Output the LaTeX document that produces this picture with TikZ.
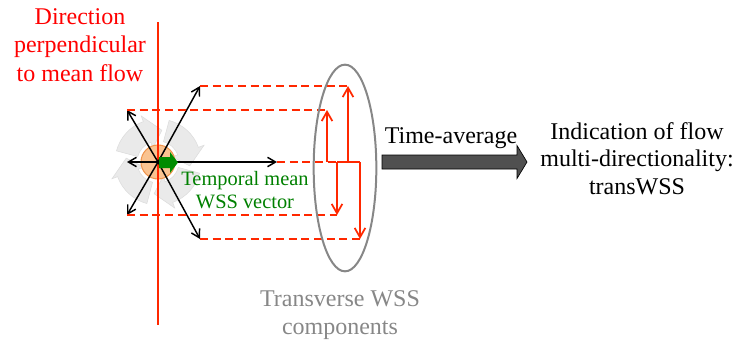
\documentclass[tikz,border=0pt]{standalone}
\usepackage{fontspec}
\setmainfont{Liberation Serif}
\usepackage{tikz}
\usetikzlibrary{arrows.meta,positioning,calc}
\usetikzlibrary{shapes.geometric}
\definecolor{flowred}{RGB}{255,40,0}
\definecolor{perpred}{RGB}{255,0,0}
\definecolor{wssgreen}{RGB}{0,128,0}
\definecolor{arrgreen}{RGB}{0,140,0}
\definecolor{ringgray}{RGB}{135,135,135}
\definecolor{recygray}{RGB}{234,234,234}
\definecolor{recyedge}{RGB}{220,220,220}
\definecolor{ballfill}{RGB}{250,195,145}
\definecolor{balledge}{RGB}{240,150,80}
\definecolor{avgfill}{RGB}{80,80,80}

\begin{document}
\begin{tikzpicture}[x=0.75pt,y=-0.75pt,
        comp/.style={-{Straight Barb[length=6pt,width=7pt]},line width=1.1pt},
        proj/.style={flowred,dash pattern=on 6pt off 3.5pt,line width=1.1pt},
        trans/.style={flowred,line width=1.3pt,-{Straight Barb[length=7pt,width=8pt]}},
        recyc/.style={fill=recygray,draw=recyedge,line width=0.4pt},
        lbl/.style={font=\fontsize{18}{21.4}\selectfont,align=center,inner sep=0pt}]
    \useasboundingbox (0,0) rectangle (745,347);

    % rotating wall shear stress around the hub
    \coordinate (hub) at (158,162);
    \foreach \a in {15,105,195,285}
        \path[recyc] ($(hub)+(\a:43)$) arc[start angle=\a,end angle=\a+55,radius=43]
            -- ($(hub)+(\a+55:49)$) -- ($(hub)+(\a+82:32)$) -- ($(hub)+(\a+55:15)$)
            -- ($(hub)+(\a+55:21)$) arc[start angle=\a+55,end angle=\a,radius=21] -- cycle;
    \node[circle,fill=ballfill,draw=balledge,line width=0.8pt,minimum size=25.5pt,inner sep=0pt] (ball) at (hub) {};

    \coordinate (ptop) at (158,22);
    \coordinate (pbot) at (158,325);
    \draw[flowred,line width=2.2pt] (ptop) -- (pbot);
    \node[lbl,text=perpred] (perp) at (80,45) {Direction\\perpendicular\\to mean flow};

    % instantaneous WSS vectors
    \coordinate (ur) at (200,86);
    \coordinate (ul) at (127,110);
    \coordinate (lf) at (127,162);
    \coordinate (rt) at (277,162);
    \coordinate (ll) at (127,215);
    \coordinate (lr) at (200,239);
    \foreach \t in {ur,ul,lf,rt,ll,lr}
        \draw[comp] (hub) -- (\t);

    \fill[arrgreen] (159,157) -- (170,157) -- (170,152) -- (178,162.5) -- (170,173) -- (170,168) -- (159,168) -- cycle;
    \node[lbl,text=wssgreen,font=\fontsize{15.3}{17.3}\selectfont] (mean) at (245,190.5) {Temporal mean\\WSS vector};

    % projections on the perpendicular direction
    \coordinate (t1) at (327,162);
    \coordinate (t2) at (348,162);
    \coordinate (t3) at (337,162);
    \coordinate (t4) at (360,162);
    \draw[proj] (ur) -- (ur -| t2);
    \draw[proj] (ul) -- (ul -| t1);
    \draw[proj] (rt) -- (t3);
    \draw[proj] (ll) -- (ll -| t3);
    \draw[proj] (lr) -- (lr -| t4);
    \draw[flowred,line width=1.3pt] (t3) -- (t4);
    \draw[trans] (t1) -- (t1 |- ul);
    \draw[trans] (t2) -- (t2 |- ur);
    \draw[trans] (t3) -- (t3 |- ll);
    \draw[trans] (t4) -- (t4 |- lr);

    \node[ellipse,draw=ringgray,line width=1.5pt,minimum width=47pt,minimum height=155pt] (ring) at (345,168) {};
    \node[lbl,text=ringgray] (comps) at (340,315) {Transverse WSS\\components};

    % averaging step
    \filldraw[fill=avgfill,draw=black,line width=0.5pt] (382,155) -- (517,155) -- (517,145.5) -- (527,162) -- (517,178.5) -- (517,169) -- (382,169) -- cycle;
    \node[lbl,anchor=base] (tavg) at (451,143) {Time-average};
    \node[lbl,font=\fontsize{18}{20.6}\selectfont] (ind) at (637,158.5) {Indication of flow\\multi-directionality:\\transWSS};
\end{tikzpicture}
\end{document}
